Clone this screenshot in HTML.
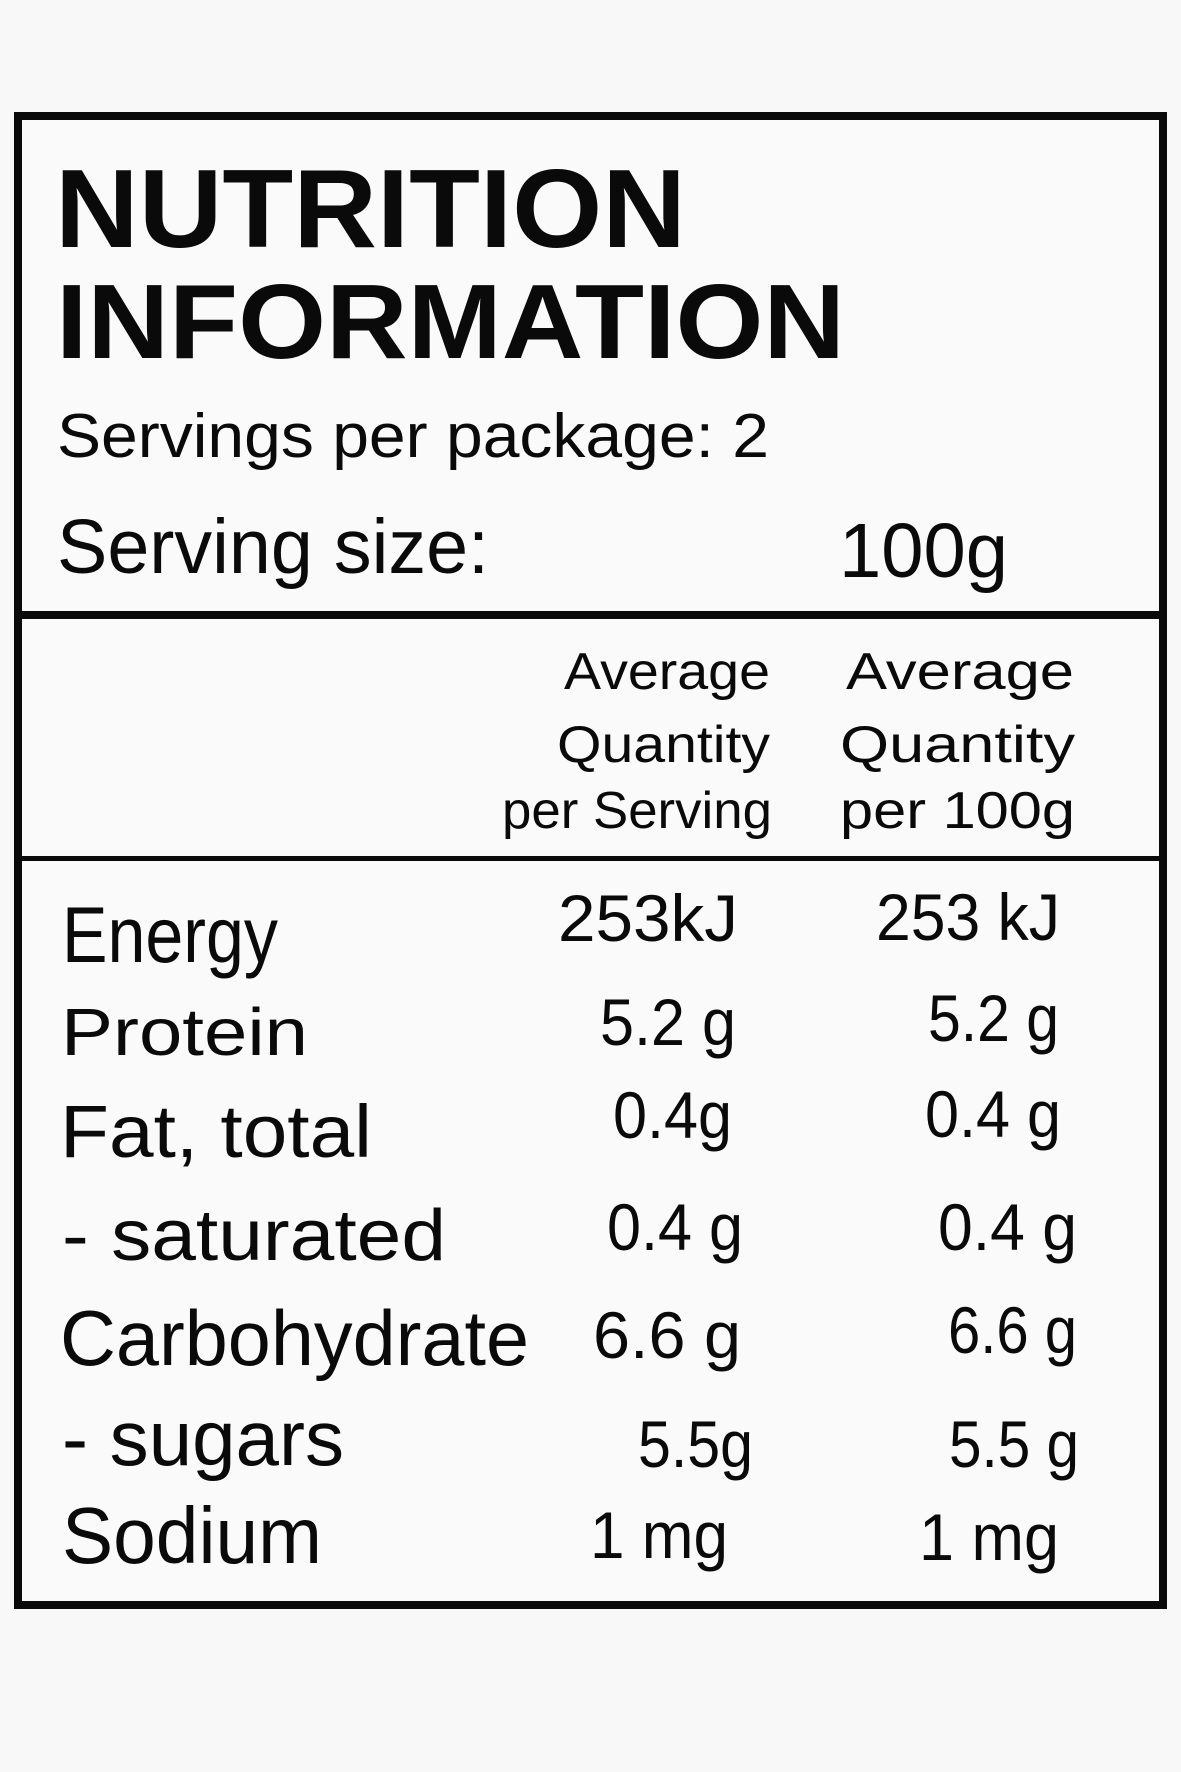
<!DOCTYPE html>
<html>
<head>
<meta charset="utf-8">
<style>
html,body{margin:0;padding:0;background:#f8f8f8;}
svg{display:block;}
.t{font-family:"Liberation Sans",sans-serif;font-weight:bold;fill:#0a0a0a;}
.r{font-family:"Liberation Sans",sans-serif;fill:#0a0a0a;}
.v{font-family:"Liberation Sans Narrow","Liberation Sans",sans-serif;fill:#0a0a0a;}
</style>
</head>
<body>
<svg width="1181" height="1772" viewBox="0 0 1181 1772" xmlns="http://www.w3.org/2000/svg">
<rect x="0" y="0" width="1181" height="1772" fill="#f8f8f8"/>
<rect x="22" y="120" width="1137" height="1481" fill="#fafafa"/>

<!-- borders -->
<rect x="14" y="112" width="1153" height="8" fill="#0a0a0a"/>
<rect x="14" y="1601" width="1153" height="8" fill="#0a0a0a"/>
<rect x="14" y="112" width="8" height="1497" fill="#0a0a0a"/>
<rect x="1159" y="112" width="8" height="1497" fill="#0a0a0a"/>
<rect x="14" y="611" width="1153" height="8" fill="#0a0a0a"/>
<rect x="14" y="856" width="1153" height="5" fill="#0a0a0a"/>

<!-- title -->
<text class="t" x="55" y="247" font-size="111" textLength="631" lengthAdjust="spacingAndGlyphs">NUTRITION</text>
<text class="t" x="56" y="358" font-size="106" textLength="789" lengthAdjust="spacingAndGlyphs">INFORMATION</text>

<!-- servings -->
<text class="r" x="57" y="457" font-size="62" textLength="712" lengthAdjust="spacingAndGlyphs">Servings per package: 2</text>
<text class="r" x="57" y="573" font-size="77" textLength="432" lengthAdjust="spacingAndGlyphs">Serving size:</text>
<text class="v" x="839" y="577" font-size="77" textLength="169" lengthAdjust="spacingAndGlyphs">100g</text>

<!-- headers -->
<text class="r" x="564" y="689" font-size="52" textLength="206" lengthAdjust="spacingAndGlyphs">Average</text>
<text class="r" x="557" y="762" font-size="52" textLength="213" lengthAdjust="spacingAndGlyphs">Quantity</text>
<text class="r" x="502" y="828" font-size="52" textLength="270" lengthAdjust="spacingAndGlyphs">per Serving</text>
<text class="r" x="846" y="689" font-size="52" textLength="228" lengthAdjust="spacingAndGlyphs">Average</text>
<text class="r" x="840" y="762" font-size="52" textLength="235" lengthAdjust="spacingAndGlyphs">Quantity</text>
<text class="r" x="840" y="828" font-size="52" textLength="235" lengthAdjust="spacingAndGlyphs">per 100g</text>

<!-- labels -->
<text class="r" x="62" y="962" font-size="79" textLength="216" lengthAdjust="spacingAndGlyphs">Energy</text>
<text class="r" x="61" y="1055" font-size="67" textLength="247" lengthAdjust="spacingAndGlyphs">Protein</text>
<text class="r" x="60" y="1157" font-size="74" textLength="312" lengthAdjust="spacingAndGlyphs">Fat, total</text>
<text class="r" x="62" y="1260" font-size="72" textLength="384" lengthAdjust="spacingAndGlyphs">- saturated</text>
<text class="r" x="60" y="1365" font-size="78" textLength="469" lengthAdjust="spacingAndGlyphs">Carbohydrate</text>
<text class="r" x="62" y="1465" font-size="78" textLength="282" lengthAdjust="spacingAndGlyphs">- sugars</text>
<text class="r" x="62" y="1563" font-size="80" textLength="260" lengthAdjust="spacingAndGlyphs">Sodium</text>

<!-- values col1 -->
<text class="v" x="558" y="941" font-size="66" textLength="180" lengthAdjust="spacingAndGlyphs">253kJ</text>
<text class="v" x="600" y="1045" font-size="66" textLength="136" lengthAdjust="spacingAndGlyphs">5.2 g</text>
<text class="v" x="613" y="1138" font-size="66" textLength="119" lengthAdjust="spacingAndGlyphs">0.4g</text>
<text class="v" x="607" y="1250" font-size="66" textLength="136" lengthAdjust="spacingAndGlyphs">0.4 g</text>
<text class="v" x="593" y="1358" font-size="66" textLength="148" lengthAdjust="spacingAndGlyphs">6.6 g</text>
<text class="v" x="638" y="1467" font-size="66" textLength="115" lengthAdjust="spacingAndGlyphs">5.5g</text>
<text class="v" x="590" y="1558" font-size="66" textLength="138" lengthAdjust="spacingAndGlyphs">1 mg</text>

<!-- values col2 -->
<text class="v" x="876" y="940" font-size="66" textLength="184" lengthAdjust="spacingAndGlyphs">253 kJ</text>
<text class="v" x="928" y="1041" font-size="66" textLength="131" lengthAdjust="spacingAndGlyphs">5.2 g</text>
<text class="v" x="925" y="1137" font-size="66" textLength="136" lengthAdjust="spacingAndGlyphs">0.4 g</text>
<text class="v" x="938" y="1250" font-size="66" textLength="139" lengthAdjust="spacingAndGlyphs">0.4 g</text>
<text class="v" x="948" y="1353" font-size="66" textLength="129" lengthAdjust="spacingAndGlyphs">6.6 g</text>
<text class="v" x="949" y="1467" font-size="66" textLength="130" lengthAdjust="spacingAndGlyphs">5.5 g</text>
<text class="v" x="919" y="1560" font-size="66" textLength="140" lengthAdjust="spacingAndGlyphs">1 mg</text>
</svg>
</body>
</html>
